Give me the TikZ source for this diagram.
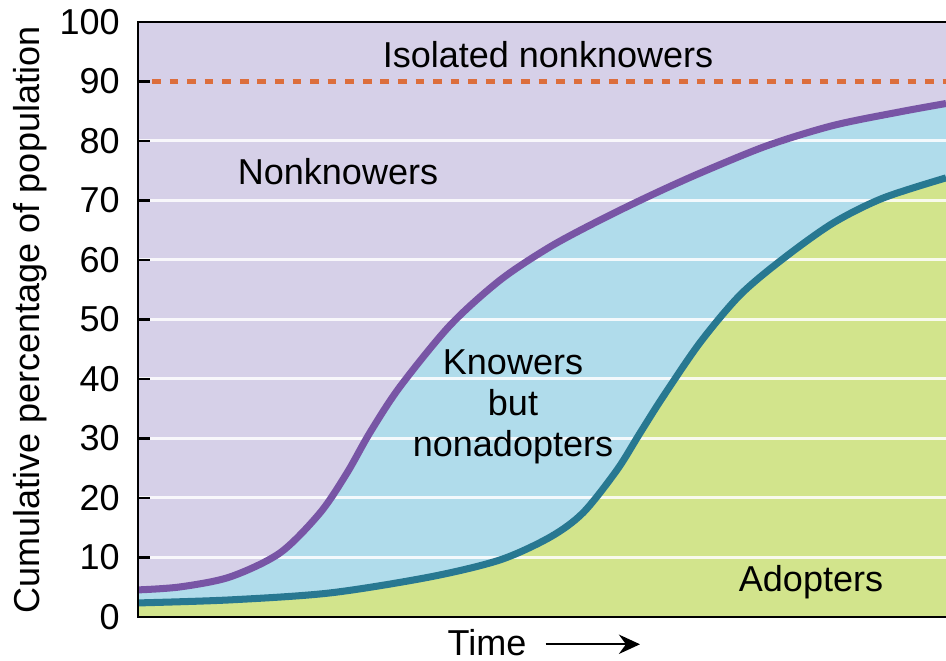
\documentclass[tikz,border=0pt]{standalone}
\usepackage{fontspec}
\setmainfont{Liberation Sans}
\usetikzlibrary{arrows.meta,positioning}
\definecolor{lavender}{HTML}{D6D0E8}
\definecolor{knowblue}{HTML}{B0DCEB}
\definecolor{adoptgreen}{HTML}{D2E48C}
\definecolor{knowline}{HTML}{7855A5}
\definecolor{adoptline}{HTML}{287891}
\definecolor{isodash}{HTML}{DC6E3C}
\newcommand{\knowcurve}{plot[smooth,tension=0.5] coordinates {(0,4.54) (42,5.04) (92,6.72) (142,10.76) (182,17.48) (209,24.2) (232,31.0) (262,38.7) (312,49.0) (362,56.6) (412,62.2) (462,66.7) (512,70.8) (562,74.6) (629,79.2) (695,82.6) (762,84.9) (808,86.3)}}
\newcommand{\adoptcurve}{plot[smooth,tension=0.5] coordinates {(0,2.35) (92,2.86) (192,4.03) (292,6.72) (362,9.58) (412,13.4) (445,17.5) (479,24.7) (502,30.9) (525,37.0) (562,46.1) (602,54.1) (645,60.2) (695,66.2) (745,70.4) (808,73.8)}}

\begin{document}
\begin{tikzpicture}[x=0.02cm,y=0.119cm,
  txt/.style={font=\fontsize{20.5}{23.5}\selectfont,inner sep=0pt,align=center},
  ticklabel/.style={txt,anchor=east},
  gridline/.style={white,line width=1.7pt,opacity=0.85},
  tickmark/.style={black,line width=1.4pt},
  frameline/.style={black,line width=1.4pt},
  curve/.style={line width=4pt},
  timearrow/.style={line width=1.3pt,-{Stealth[length=12pt,width=11pt,inset=4pt]}}]
\useasboundingbox (-138,-7.395) rectangle (808,103.7);

\fill[lavender] (0,0) rectangle (808,100);
\fill[knowblue] \knowcurve -- (808,0) -- (0,0) -- cycle;
\fill[adoptgreen] \adoptcurve -- (808,0) -- (0,0) -- cycle;
\foreach \v in {10,20,...,80}
  \draw[gridline] (0,\v) -- (808,\v);
\draw[isodash,line width=2.6pt,dash pattern=on 5pt off 5pt] (14,90) -- (808,90);
\draw[curve,knowline] \knowcurve;
\draw[curve,adoptline] \adoptcurve;

\foreach \v in {0,10,...,100} {
  \draw[tickmark] (0,\v) -- (12,\v);
  \node[ticklabel] (tick\v) at (-18,\v) {\v};
}
\draw[frameline] (808,100) -- (0,100) -- (0,0) -- (808,0);

\node[txt] (isolated) at (410,94.5) {Isolated nonknowers};
\node[txt] (nonknowers) at (200,74.8) {Nonknowers};
\node[txt] (knowers) at (375,35.3) {Knowers\\but\\nonadopters};
\node[txt] (adopters) at (673,5.9) {Adopters};
\node[txt] (time) at (349,-4.35) {Time};
\node[txt,rotate=90] (ylabel) at (-108,49.9) {Cumulative percentage of population};
\coordinate (timeend) at (502,-4.6);
\draw[timearrow] ([xshift=0.38cm]time.east |- timeend) -- (timeend);
\end{tikzpicture}
\end{document}
